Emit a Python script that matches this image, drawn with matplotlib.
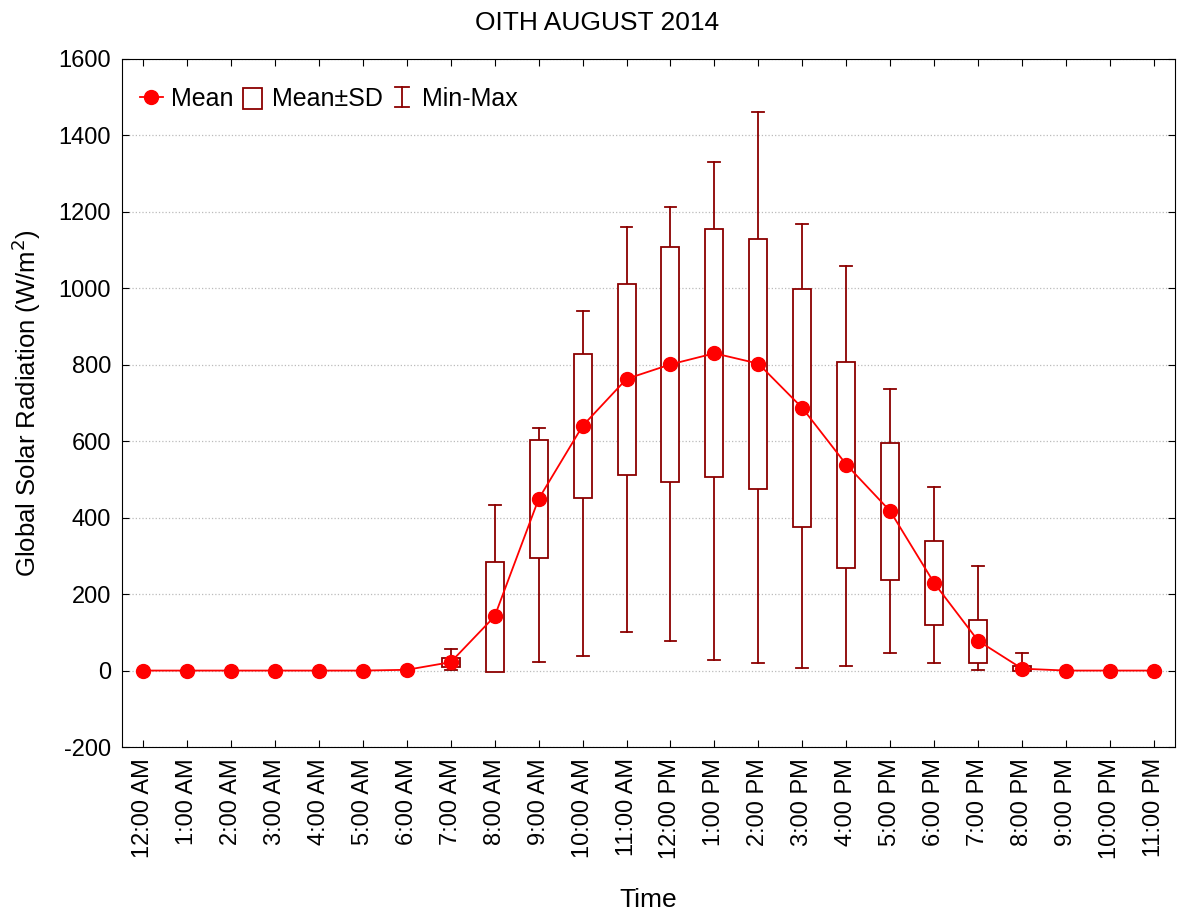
import numpy as np
import matplotlib.pyplot as plt
from matplotlib.lines import Line2D
from matplotlib.patches import Rectangle
from matplotlib.legend_handler import HandlerBase

plt.rcParams['font.family'] = ['Liberation Sans', 'DejaVu Sans']
plt.rcParams['axes.unicode_minus'] = False

hours = ['12:00 AM', '1:00 AM', '2:00 AM', '3:00 AM', '4:00 AM', '5:00 AM',
         '6:00 AM', '7:00 AM', '8:00 AM', '9:00 AM', '10:00 AM', '11:00 AM',
         '12:00 PM', '1:00 PM', '2:00 PM', '3:00 PM', '4:00 PM', '5:00 PM',
         '6:00 PM', '7:00 PM', '8:00 PM', '9:00 PM', '10:00 PM', '11:00 PM']

mean = [0, 0, 0, 0, 0, 0, 2, 22, 142, 449, 640, 763,
        801, 830, 803, 687, 539, 417, 229, 78, 5, 0, 0, 0]
sd_low = [0, 0, 0, 0, 0, 0, 0, 10, -5, 295, 451, 512,
          494, 506, 474, 375, 269, 237, 119, 21, 0, 0, 0, 0]
sd_high = [0, 0, 0, 0, 0, 0, 0, 32, 284, 603, 828, 1012,
           1107, 1156, 1129, 999, 808, 595, 339, 133, 12, 0, 0, 0]
vmin = [0, 0, 0, 0, 0, 0, 0, 1, 0, 22, 38, 101,
        77, 27, 19, 8, 13, 46, 21, 2, 0, 0, 0, 0]
vmax = [0, 0, 0, 0, 0, 0, 0, 57, 433, 635, 941, 1161,
        1212, 1331, 1461, 1169, 1059, 737, 479, 274, 45, 0, 0, 0]

dark = '#8b0000'
x = np.arange(len(hours))
bw = 0.41
cw = 0.27
lw_box = 1.3
fs = 17      # tick labels
fs_lab = 19  # title, axis labels
fs_leg = 18

fig = plt.figure(figsize=(11.79, 9.13), dpi=100)
ax = fig.add_axes([0.1035, 0.1818, 0.8931, 0.7536])

for i in x:
    if vmax[i] - vmin[i] <= 0:
        continue
    # whiskers
    if vmax[i] > sd_high[i]:
        ax.plot([i, i], [sd_high[i], vmax[i]], color=dark, lw=lw_box, zorder=2)
        ax.plot([i - cw / 2, i + cw / 2], [vmax[i], vmax[i]], color=dark, lw=lw_box, zorder=2)
    if vmin[i] < sd_low[i]:
        ax.plot([i, i], [vmin[i], sd_low[i]], color=dark, lw=lw_box, zorder=2)
        ax.plot([i - cw / 2, i + cw / 2], [vmin[i], vmin[i]], color=dark, lw=lw_box, zorder=2)
    ax.add_patch(Rectangle((i - bw / 2, sd_low[i]), bw, sd_high[i] - sd_low[i],
                           facecolor='white', edgecolor=dark, lw=lw_box, zorder=3))

ax.plot(x, mean, color='red', lw=1.3, marker='o', markersize=10, zorder=4)

ax.set_xlim(-0.48, 23.48)
ax.set_ylim(-200, 1600)
ax.set_yticks(np.arange(-200, 1601, 200))
ax.set_xticks(x)
ax.set_xticklabels(hours, rotation=90)
ax.tick_params(direction='in', top=True, right=True, labelsize=fs, length=5, pad=8)
ax.yaxis.grid(True, linestyle=':', color='#bbbbbb', lw=0.9)
ax.set_axisbelow(True)

ax.set_xlabel('Time', fontsize=fs_lab, labelpad=21)
ax.set_ylabel('Global Solar Radiation (W/m$^2$)', fontsize=fs_lab - 0.5, labelpad=11)
fig.text(0.506, 0.975, 'OITH AUGUST 2014', fontsize=fs_lab, ha='center', va='center')


class MinMaxHandler(HandlerBase):
    def create_artists(self, legend, orig, xd, yd, width, height, fontsize, trans):
        cx = xd + width / 2
        top = yd + height * 1.05
        l1 = Line2D([cx, cx], [yd - 1, top], color=dark, lw=lw_box, transform=trans)
        l2 = Line2D([cx - 5, cx + 5], [yd - 1, yd - 1], color=dark, lw=lw_box, transform=trans)
        l3 = Line2D([cx - 5, cx + 5], [top, top], color=dark, lw=lw_box, transform=trans)
        return [l1, l2, l3]


class BoxHandler(HandlerBase):
    def create_artists(self, legend, orig, xd, yd, width, height, fontsize, trans):
        r = Rectangle((xd + width / 2 - 7, yd - 2), 14, height * 1.15, facecolor='white',
                      edgecolor=dark, lw=lw_box, transform=trans)
        return [r]


h1 = Line2D([], [], color='red', marker='o', markersize=10, lw=1.3)
h2 = Rectangle((0, 0), 1, 1)
h3 = Line2D([], [])
ax.legend([h1, h2, h3], ['Mean', 'Mean\u00b1SD', 'Min-Max'], loc='upper left',
          bbox_to_anchor=(0.0, 0.985), ncol=3, frameon=False, fontsize=fs_leg,
          handlelength=0.95, handletextpad=0.3, columnspacing=0.3, borderaxespad=0.3,
          handler_map={h2: BoxHandler(), h3: MinMaxHandler()})

fig.savefig('out.png', dpi=100)
